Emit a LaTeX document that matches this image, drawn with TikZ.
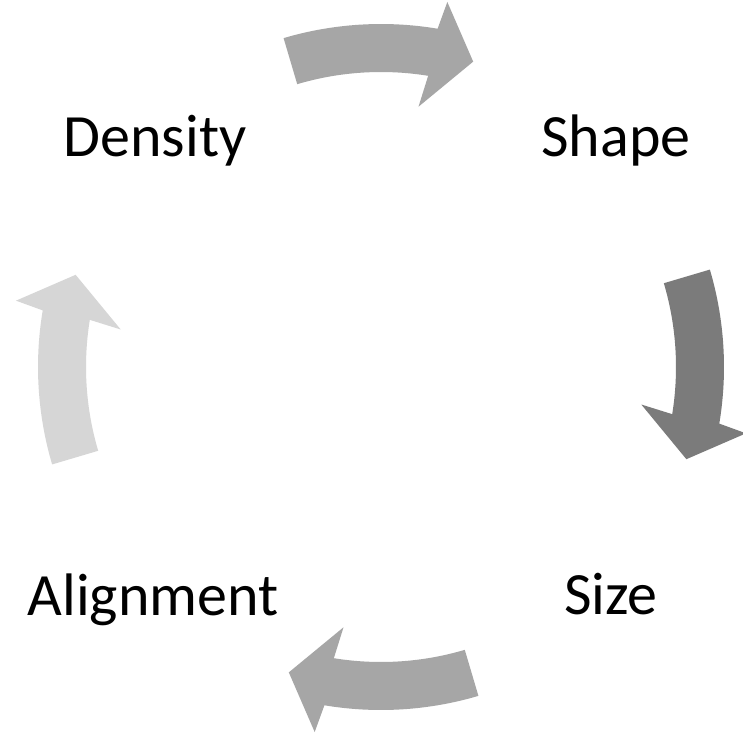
\documentclass[tikz,border=0pt]{standalone}
\usepackage{fontspec}
\setmainfont{Carlito}
\definecolor{arrA}{HTML}{A6A6A6}
\definecolor{arrB}{HTML}{7B7B7B}
\definecolor{arrC}{HTML}{D6D6D6}
\tikzset{
  lbl/.style={anchor=base, inner sep=0pt, font=\fontsize{60}{72}\selectfont, text=black},
}
\begin{document}
\begin{tikzpicture}[x=1pt,y=1pt]
\useasboundingbox (0,0) rectangle (743,-735);
\fill[white] (0,0) rectangle (743,-735);
\begin{scope}[shift={(381pt,-367pt)}]
\foreach \p/\c in {90/arrA,0/arrB,-90/arrA,180/arrC}{
  \fill[\c] (\p+16.5:343) arc[start angle=\p+16.5, end angle=\p-9.5, radius=343]
    -- (\p-10.3:371) -- (\p-16.8:319) -- (\p-8.2:263) -- (\p-9.2:295)
    arc[start angle=\p-9.2, end angle=\p+16.5, radius=295] -- cycle;
}
\end{scope}
\node[lbl] (density) at (155,-157) {Density};
\node[lbl] (shape) at (616,-157) {Shape};
\node[lbl] (alignment) at (153,-615) {Alignment};
\node[lbl] (size) at (611,-614) {Size};
\end{tikzpicture}
\end{document}
